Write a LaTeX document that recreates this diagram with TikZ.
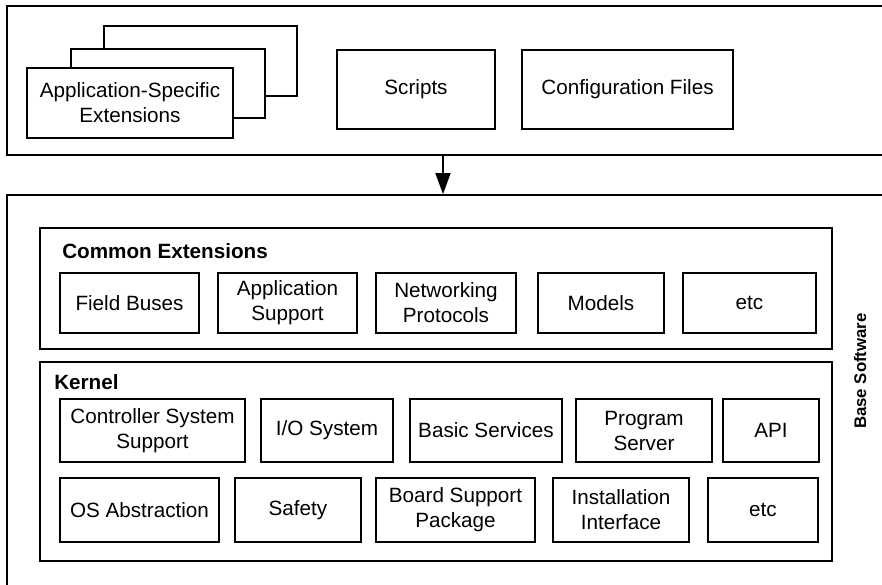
\documentclass[tikz,border=0pt]{standalone}
\usepackage{fontspec}
\setmainfont{Liberation Sans}
\usetikzlibrary{arrows.meta}

\tikzset{
	blk/.style={draw, line width=1.3pt, inner sep=0pt, align=center, fill=white,
		font=\fontsize{15.5}{18.75}\selectfont},
	sz/.style 2 args={minimum width=#1*0.75pt, minimum height=#2*0.75pt},
	hdr/.style={inner sep=0pt, font=\fontsize{15.5}{18.75}\selectfont\bfseries},
}

\begin{document}
\begin{tikzpicture}[x=0.75pt, y=-0.75pt]
	\useasboundingbox (0,0) rectangle (882,585);
	\clip (0,0) rectangle (882,585);
	% application layer
	\node[blk, sz={893}{149}] (app) at (453.5,80.5) {};
	\node[blk, sz={193}{70}] (ext3) at (200.5,61) {};
	\node[blk, sz={194}{69}] (ext2) at (168,83.5) {};
	\node[blk, sz={206}{70}] (ext) at (130,103) {Application-Specific\\Extensions};
	\node[blk, sz={158}{79}] (scr) at (416,89.5) {Scripts};
	\node[blk, sz={211}{79}] (cfg) at (627.5,89.5) {Configuration Files};
	% base software
	\node[blk, sz={893}{405}] (base) at (453.5,397.5) {};
	\node[hdr, rotate=90, font=\fontsize{12.6}{15}\selectfont\bfseries] (bsl) at (860,371) {Base Software};
	\coordinate (arr) at (443,0);
	\draw[-{Triangle[width=11.25pt,length=15.75pt]}, line width=1.3pt] (arr |- app.south) -- (arr |- base.north);
	% common extensions
	\node[blk, sz={792}{121}] (com) at (436,288.5) {};
	\node[hdr, anchor=base west] (coml) at (62,258) {Common Extensions};
	\node[blk, sz={139}{60}] (fb) at (129.5,303) {Field Buses};
	\node[blk, sz={139}{60}] (as) at (287.5,303) {Application\\Support};
	\node[blk, sz={140}{60}] (np) at (446,303) {Networking\\Protocols};
	\node[blk, sz={126}{60}] (mod) at (601,303) {Models};
	\node[blk, sz={133}{60}] (cetc) at (749.5,303) {etc};
	% kernel
	\node[blk, sz={792}{199}] (krn) at (436,461.5) {};
	\node[hdr, anchor=base west] (krnl) at (54,389) {Kernel};
	\node[blk, sz={185}{63}] (css) at (152.5,430.5) {Controller System\\Support};
	\node[blk, sz={132}{63}] (io) at (327,430.5) {I/O System};
	\node[blk, sz={152}{63}] (bsv) at (486,430.5) {Basic Services};
	\node[blk, sz={136}{63}] (ps) at (644,430.5) {Program\\Server};
	\node[blk, sz={96}{63}] (api) at (771,430.5) {API};
	\node[blk, sz={159}{64}] (osa) at (139.5,510) {OS Abstraction};
	\node[blk, sz={126}{64}] (saf) at (298,510) {Safety};
	\node[blk, sz={159}{64}] (bsp) at (455.5,510) {Board Support\\Package};
	\node[blk, sz={136}{64}] (ii) at (621,510) {Installation\\Interface};
	\node[blk, sz={110}{64}] (ketc) at (763,510) {etc};
\end{tikzpicture}
\end{document}
